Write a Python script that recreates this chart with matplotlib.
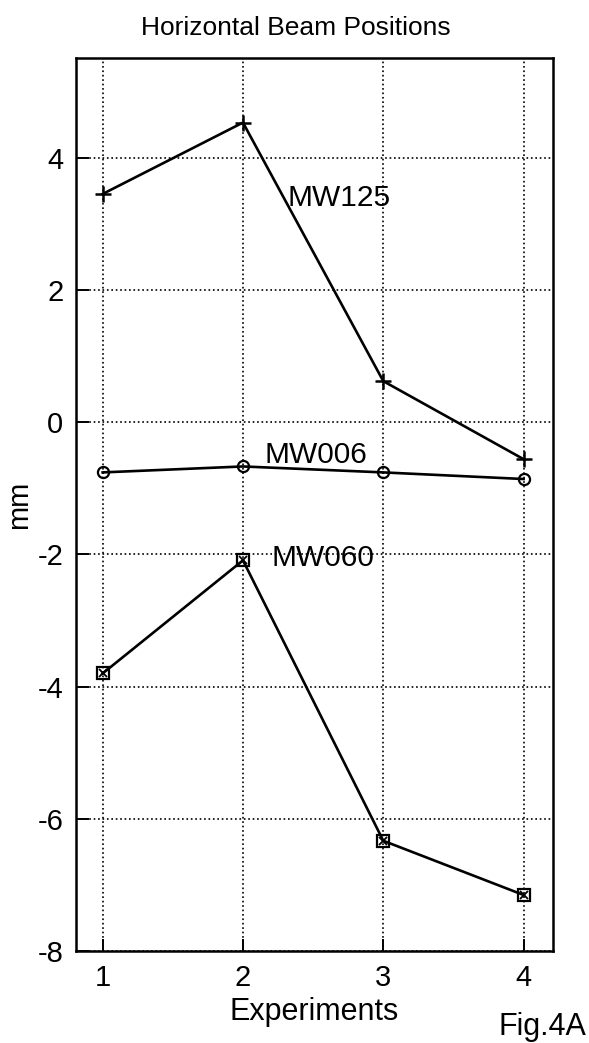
import numpy as np
import matplotlib
matplotlib.use('Agg')
import matplotlib.pyplot as plt

# data
experiments = [1, 2, 3, 4]
mw125 = [3.45, 4.53, 0.62, -0.56]
mw006 = [-0.76, -0.67, -0.76, -0.86]
mw060 = [-3.80, -2.09, -6.33, -7.15]
y_ticks = [-8, -6, -4, -2, 0, 2, 4]

plt.rcParams['font.family'] = ['Liberation Sans', 'DejaVu Sans']
plt.rcParams['axes.unicode_minus'] = False

fig = plt.figure(figsize=(5.89, 10.43), dpi=100)
ax = fig.add_axes([0.129, 0.088, 0.81, 0.856])

# lines
ax.plot(experiments, mw125, color='black', lw=1.9, marker='+', ms=12, mew=1.8)
ax.plot(experiments, mw006, color='black', lw=1.9, marker='o', ms=8,
        mfc='none', mew=1.6)
ax.plot(experiments, mw060, color='black', lw=1.9, marker='s', ms=8,
        mfc='none', mew=1.6)
ax.plot(experiments, mw060, color='black', lw=0, marker='x', ms=6, mew=1.3)

# series labels
ax.text(2.32, 3.27, 'MW125', fontsize=21.5, va='baseline', ha='left')
ax.text(2.15, -0.62, 'MW006', fontsize=21.5, va='baseline', ha='left')
ax.text(2.20, -2.17, 'MW060', fontsize=21.5, va='baseline', ha='left')

ax.set_xlim(0.81, 4.21)
ax.set_ylim(-8, 5.5)
ax.set_xticks(experiments)
ax.set_yticks(y_ticks)
ax.tick_params(direction='in', length=9, width=1.4, labelsize=21, pad=9)
ax.grid(True, color='black', linestyle=':', linewidth=1.2)
for s in ax.spines.values():
    s.set_linewidth(1.8)

ax.set_title('Horizontal Beam Positions', fontsize=19, pad=17, x=0.46)
ax.set_xlabel('Experiments', fontsize=22, labelpad=4)
ax.set_ylabel('mm', fontsize=21, labelpad=3)

fig.text(0.995, 0.008, 'Fig.4A', fontsize=22, ha='right', va='baseline')

fig.savefig('out.png', dpi=100)
